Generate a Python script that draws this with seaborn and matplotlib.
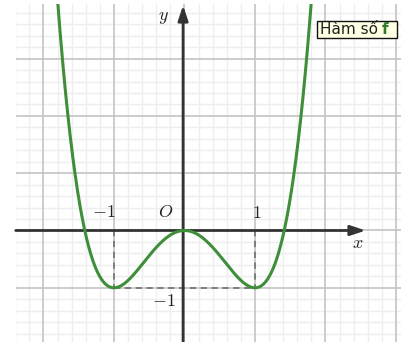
import numpy as np
import pandas as pd
import matplotlib
matplotlib.use("Agg")
import matplotlib.pyplot as plt
from matplotlib.patches import Rectangle
import seaborn as sns

# f(x) = x^4 - 2x^2, given by its polynomial coefficients (highest degree first)
coeffs = [1, 0, -2, 0, 0]
x_min, x_max = -2.394, 3.071
y_min, y_max = -1.946, 3.953

# extremum points of f and their labels
crit_x = [-1, 0, 1]
crit_y = [-1, 0, -1]
tick_labels = {"xneg": r"$-1$", "xpos": r"$1$", "yneg": r"$-1$"}
legend_text = "Hàm số"
legend_name = "f"

xs = np.linspace(-2.0, 2.0, 801)
df = pd.DataFrame({"x": xs, "y": np.polyval(coeffs, xs)})

sns.set_style("white")
plt.rcParams["mathtext.fontset"] = "cm"

W, H = 409, 342
fig = plt.figure(figsize=(W / 100, H / 100), dpi=100)
left_px, right_px, top_px = 15.7, 401.0, 4.0
ax = fig.add_axes([left_px / W, 0, (right_px - left_px) / W, (H - top_px) / H])
ax.set_xlim(x_min, x_max)
ax.set_ylim(y_min, y_max)

# grid: major every unit, minor every 1/5
for v in np.arange(-2.4, 3.1, 0.2):
    if abs(v - round(v)) > 1e-6:
        ax.axvline(v, color="#eeeeee", lw=1.0, zorder=0)
for v in np.arange(-2.0, 4.0, 0.2):
    if abs(v - round(v)) > 1e-6:
        ax.axhline(v, color="#eeeeee", lw=1.0, zorder=0)
for v in range(-2, 4):
    ax.axvline(v, color="#c4c4c4", lw=1.2, zorder=0.5)
for v in range(-1, 4):
    ax.axhline(v, color="#c4c4c4", lw=1.2, zorder=0.5)

for s in ax.spines.values():
    s.set_visible(False)
ax.set_xticks([])
ax.set_yticks([])

# coordinate axes with arrowheads
axis_col = "#333333"
ax.annotate("", xy=(2.57, 0), xytext=(x_min, 0),
            arrowprops=dict(arrowstyle="-|>,head_length=0.9,head_width=0.3",
                            color=axis_col, lw=2.0, shrinkA=0, shrinkB=0), zorder=3)
ax.annotate("", xy=(-0.02, 3.93), xytext=(-0.02, y_min),
            arrowprops=dict(arrowstyle="-|>,head_length=0.9,head_width=0.3",
                            color=axis_col, lw=2.0, shrinkA=0, shrinkB=0), zorder=3)

# dashed guides to the minima
dash_col = "#777777"
ax.plot([crit_x[0], crit_x[0]], [0, crit_y[0]], ls=(0, (3.5, 2.5)), color=dash_col, lw=1.3, zorder=2)
ax.plot([crit_x[2], crit_x[2]], [0, crit_y[2]], ls=(0, (3.5, 2.5)), color=dash_col, lw=1.3, zorder=2)
ax.plot([crit_x[0], crit_x[2]], [crit_y[0], crit_y[2]], ls=(0, (3.5, 2.5)), color=dash_col, lw=1.3, zorder=2)

# the graph of f
sns.lineplot(data=df, x="x", y="y", ax=ax, color="#3e8e3a", lw=2.2, zorder=4,
             sort=False, estimator=None)
ax.set_xlabel("")
ax.set_ylabel("")

# labels
fs = 13
ax.text(-0.27, 0.33, r"$O$", fontsize=fs, ha="center", va="center", color="#222222")
ax.text(-1.14, 0.33, tick_labels["xneg"], fontsize=fs, ha="center", va="center", color="#222222")
ax.text(1.02, 0.31, tick_labels["xpos"], fontsize=fs, ha="center", va="center", color="#222222")
ax.text(-0.30, -1.23, tick_labels["yneg"], fontsize=fs, ha="center", va="center", color="#222222")
ax.text(2.46, -0.22, r"$x$", fontsize=fs, ha="center", va="center", color="#222222")
ax.text(-0.30, 3.72, r"$y$", fontsize=fs, ha="center", va="center", color="#222222")

# function name box
yc = 1 - 29.5 / H
t1 = fig.text(320 / W, yc, legend_text, fontsize=11, family="DejaVu Sans",
              ha="left", va="center", color="#222222", zorder=6)
fig.canvas.draw()
b1 = t1.get_window_extent()
t2 = fig.text((b1.x1 + 4) / W, yc, legend_name, fontsize=11, family="DejaVu Sans",
              weight="bold", ha="left", va="center", color="#2e7d2e", zorder=6)
fig.canvas.draw()
b2 = t2.get_window_extent()
x0, x1 = 317, max(397, b2.x1 + 3)
y0, y1 = H - 37.5, H - 20.5
fig.add_artist(Rectangle((x0 / W, y0 / H), (x1 - x0) / W, (y1 - y0) / H,
                         transform=fig.transFigure, fc="#ffffe4", ec="#111111",
                         lw=1.0, zorder=5))

fig.savefig("out.png", dpi=100)
